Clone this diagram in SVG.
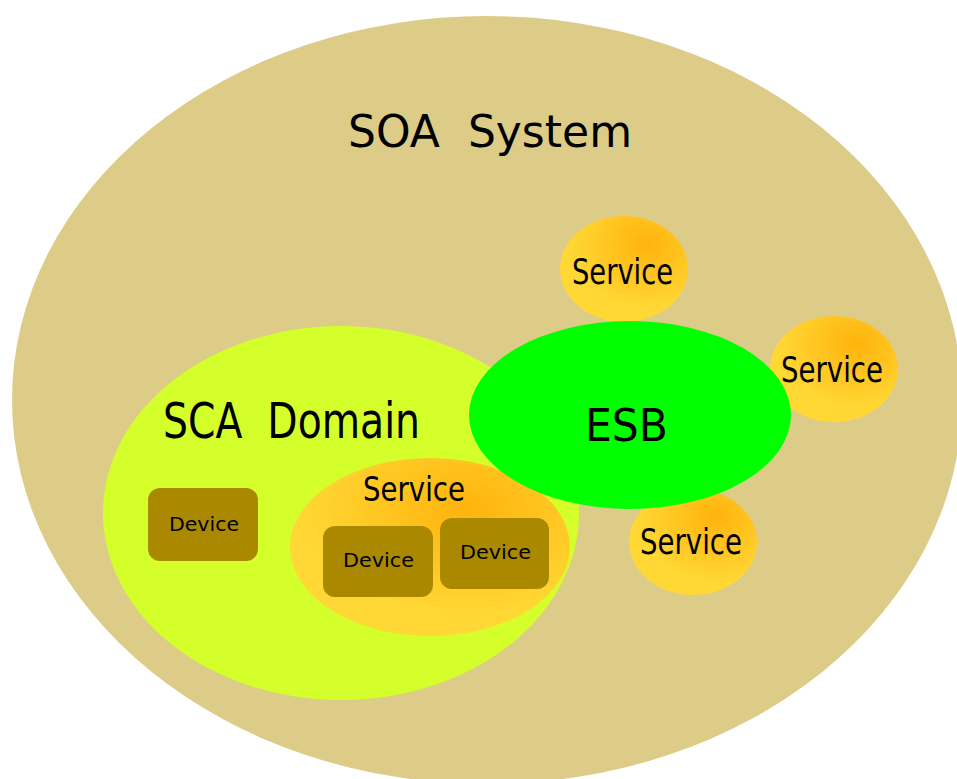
<svg xmlns="http://www.w3.org/2000/svg" width="957" height="779" viewBox="0 0 957 779">
<style>
text{font-family:"DejaVu Sans","Liberation Sans",sans-serif;fill:#000;white-space:pre}
.dev{fill:#aa8800}
.svc{fill:url(#svcGrad)}
.dl{font-size:20px}
.sl{font-size:35px}
</style>
<defs>
<radialGradient id="svcGrad" cx="0.68" cy="0.26" r="0.62" fx="0.68" fy="0.26">
<stop offset="0" stop-color="#ffb30d"/>
<stop offset="1" stop-color="#ffd835"/>
</radialGradient>
<radialGradient id="svcGrad2" cx="0.63" cy="0.29" r="0.6" fx="0.63" fy="0.29">
<stop offset="0" stop-color="#ffb30d"/>
<stop offset="1" stop-color="#ffd835"/>
</radialGradient>
</defs>
<rect width="957" height="779" fill="#ffffff"/>
<g id="soa-system">
<ellipse cx="487" cy="400" rx="475" ry="384" fill="#ddcc88"/>
<text xml:space="preserve" x="348" y="147" font-size="44" textLength="284" lengthAdjust="spacingAndGlyphs">SOA  System</text>
</g>
<g id="service-top">
<ellipse class="svc" cx="624" cy="269" rx="64" ry="53"/>
<text class="sl" x="572" y="284" textLength="101" lengthAdjust="spacingAndGlyphs">Service</text>
</g>
<g id="service-right">
<ellipse class="svc" cx="834" cy="369" rx="64" ry="53"/>
<text class="sl" x="781" y="382" textLength="102" lengthAdjust="spacingAndGlyphs">Service</text>
</g>
<g id="service-bottom">
<ellipse class="svc" cx="693" cy="542" rx="64" ry="53"/>
<text class="sl" x="640" y="554" textLength="102" lengthAdjust="spacingAndGlyphs">Service</text>
</g>
<g id="sca-domain">
<ellipse cx="341" cy="513" rx="238" ry="187" fill="#d5ff2a"/>
<text xml:space="preserve" x="163" y="438" font-size="49" textLength="257" lengthAdjust="spacingAndGlyphs">SCA  Domain</text>
</g>
<g id="device-1">
<rect class="dev" x="148" y="488" width="110" height="73" rx="12"/>
<text class="dl" x="169" y="531" textLength="70" lengthAdjust="spacingAndGlyphs">Device</text>
</g>
<g id="service-inner">
<ellipse cx="430" cy="547" rx="140" ry="89" fill="url(#svcGrad2)"/>
<text x="363" y="501" font-size="33" textLength="102" lengthAdjust="spacingAndGlyphs">Service</text>
</g>
<g id="device-2">
<rect class="dev" x="323" y="526" width="110" height="71" rx="12"/>
<text class="dl" x="343" y="567" textLength="71" lengthAdjust="spacingAndGlyphs">Device</text>
</g>
<g id="device-3">
<rect class="dev" x="440" y="518" width="109" height="71" rx="12"/>
<text class="dl" x="460" y="559" textLength="71" lengthAdjust="spacingAndGlyphs">Device</text>
</g>
<g id="esb">
<ellipse cx="630" cy="415" rx="161" ry="94" fill="#00ff00"/>
<text x="585" y="441" font-size="44" textLength="83" lengthAdjust="spacingAndGlyphs">ESB</text>
</g>
<g id="connectors"></g>
</svg>
